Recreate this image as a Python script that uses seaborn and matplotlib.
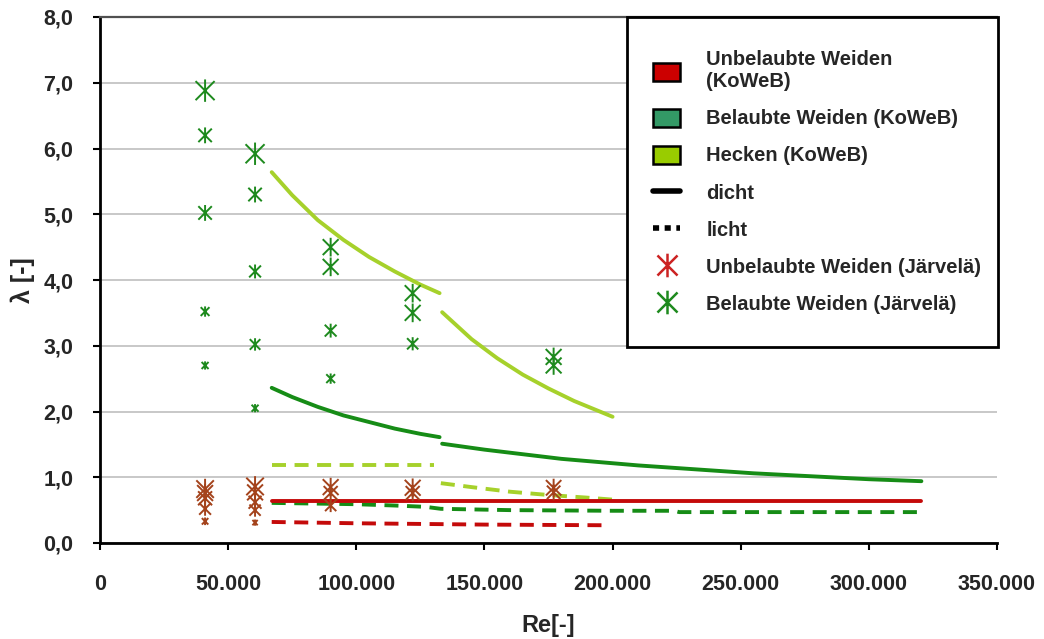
import numpy as np
import pandas as pd
import matplotlib
matplotlib.use("Agg")
import matplotlib.pyplot as plt
import seaborn as sns
from matplotlib.path import Path
from matplotlib.patches import Patch, Rectangle
from matplotlib.lines import Line2D
from matplotlib.ticker import FuncFormatter, MultipleLocator

# ---------------- data ----------------
# KoWeB: Hecken (dicht / licht)
hecken_dicht_1_x = [67000, 75000, 85000, 95000, 105000, 115000, 125000, 132500]
hecken_dicht_1_y = [5.64, 5.29, 4.91, 4.61, 4.35, 4.13, 3.93, 3.80]
hecken_dicht_2_x = [133500, 145000, 155000, 165000, 175000, 185000, 200000]
hecken_dicht_2_y = [3.51, 3.10, 2.81, 2.56, 2.35, 2.16, 1.92]
hecken_licht_1_x = [67000, 130500]
hecken_licht_1_y = [1.19, 1.19]
hecken_licht_2_x = [133000, 145000, 160000, 175000, 190000, 200000]
hecken_licht_2_y = [0.91, 0.85, 0.78, 0.73, 0.69, 0.66]

# KoWeB: Belaubte Weiden
belaubt_dicht_1_x = [67000, 75000, 85000, 95000, 105000, 115000, 125000, 132500]
belaubt_dicht_1_y = [2.36, 2.22, 2.07, 1.94, 1.84, 1.74, 1.66, 1.61]
belaubt_dicht_2_x = [133500, 150000, 165000, 180000, 195000, 210000, 225000,
                     240000, 255000, 270000, 285000, 300000, 320500]
belaubt_dicht_2_y = [1.51, 1.42, 1.35, 1.28, 1.23, 1.18, 1.14,
                     1.10, 1.06, 1.03, 1.00, 0.97, 0.94]
belaubt_licht_x = [67000, 100000, 115000, 127000, 133000, 160000, 200000, 224000, 226000, 320500]
belaubt_licht_y = [0.61, 0.59, 0.57, 0.55, 0.52, 0.50, 0.49, 0.49, 0.47, 0.47]

# KoWeB: Unbelaubte Weiden
unbelaubt_dicht_x = [67000, 320500]
unbelaubt_dicht_y = [0.64, 0.64]
unbelaubt_licht_x = [67000, 100000, 150000, 197000]
unbelaubt_licht_y = [0.32, 0.30, 0.28, 0.27]

# Järvelä measurements
jarv_bel_x = [41000, 41000, 41000, 41000, 41000,
              60500, 60500, 60500, 60500, 60500,
              90000, 90000, 90000, 90000,
              122000, 122000, 122000,
              177000, 177000]
jarv_bel_y = [6.88, 6.20, 5.02, 3.52, 2.70,
              5.92, 5.30, 4.13, 3.02, 2.05,
              4.50, 4.20, 3.23, 2.50,
              3.80, 3.50, 3.03,
              2.83, 2.70]
jarv_unbel_x = [41000, 41000, 41000, 41000, 41000,
                60500, 60500, 60500, 60500, 60500,
                90000, 90000, 90000,
                122000, 122000,
                177000, 177000]
jarv_unbel_y = [0.82, 0.76, 0.68, 0.52, 0.33,
                0.86, 0.77, 0.62, 0.50, 0.31,
                0.85, 0.76, 0.57,
                0.84, 0.76,
                0.84, 0.77]

# marker sizes (style, points^2)
jarv_bel_s = [260, 130, 130, 55, 35,
              260, 130, 100, 80, 35,
              180, 180, 100, 55,
              180, 180, 90,
              180, 180]
jarv_unbel_s = [220, 180, 140, 100, 30,
                220, 180, 120, 90, 20,
                180, 140, 90,
                180, 140,
                170, 130]

xticks = [0, 50000, 100000, 150000, 200000, 250000, 300000, 350000]

# ---------------- style ----------------
sns.set_theme(style="white")
plt.rcParams['font.family'] = ['Liberation Sans', 'DejaVu Sans']
plt.rcParams['font.weight'] = 'bold'

C_RED = "#c40a0a"
C_DGREEN = "#168c16"
C_LGREEN = "#a6d12b"
C_SC_GREEN = "#1e8a1e"
C_BROWN = "#a4431c"

star = Path([(0, -1), (0, 1), (-0.85, -0.85), (0.85, 0.85), (-0.85, 0.85), (0.85, -0.85)],
            [Path.MOVETO, Path.LINETO, Path.MOVETO, Path.LINETO, Path.MOVETO, Path.LINETO])

fig = plt.figure(figsize=(10.44, 6.39), dpi=100)
ax = fig.add_axes([100 / 1044, 1 - 543 / 639, 897 / 1044, 526 / 639])

LW = 2.8
DASH = (3.6, 2.2)

def line(xs, ys, color, dashed=False):
    df = pd.DataFrame({"x": xs, "y": ys})
    kw = dict(color=color, linewidth=LW, solid_capstyle='round', dash_capstyle='butt')
    l = sns.lineplot(data=df, x="x", y="y", ax=ax, sort=False, estimator=None, **kw)
    if dashed:
        l.lines[-1].set_dashes(DASH)

line(unbelaubt_licht_x, unbelaubt_licht_y, C_RED, dashed=True)
line(belaubt_licht_x, belaubt_licht_y, C_DGREEN, dashed=True)
line(hecken_licht_1_x, hecken_licht_1_y, C_LGREEN, dashed=True)
line(hecken_licht_2_x, hecken_licht_2_y, C_LGREEN, dashed=True)
line(unbelaubt_dicht_x, unbelaubt_dicht_y, C_RED)
line(belaubt_dicht_1_x, belaubt_dicht_1_y, C_DGREEN)
line(belaubt_dicht_2_x, belaubt_dicht_2_y, C_DGREEN)
line(hecken_dicht_1_x, hecken_dicht_1_y, C_LGREEN)
line(hecken_dicht_2_x, hecken_dicht_2_y, C_LGREEN)

sns.scatterplot(x=jarv_bel_x, y=jarv_bel_y, ax=ax, marker=star, s=jarv_bel_s,
                color=C_SC_GREEN, edgecolor=C_SC_GREEN, linewidth=1.4, zorder=5)
sns.scatterplot(x=jarv_unbel_x, y=jarv_unbel_y, ax=ax, marker=star, s=jarv_unbel_s,
                color=C_BROWN, edgecolor=C_BROWN, linewidth=1.4, zorder=5)

# ---------------- axes ----------------
ax.set_xlim(0, 350000)
ax.set_ylim(0, 8)
ax.set_xticks(xticks)
ax.xaxis.set_major_formatter(FuncFormatter(lambda v, p: f"{int(v):,}".replace(",", ".")))
ax.yaxis.set_major_locator(MultipleLocator(1.0))
ax.yaxis.set_major_formatter(FuncFormatter(lambda v, p: f"{v:.1f}".replace(".", ",")))
ax.grid(axis='y', color='#c4c4c4', linewidth=1.3)
ax.set_axisbelow(True)
for s in ['left', 'bottom']:
    ax.spines[s].set_color('black')
    ax.spines[s].set_linewidth(2.0)
ax.spines['top'].set_color('#505050')
ax.spines['top'].set_linewidth(1.6)
ax.spines['right'].set_visible(False)
ax.tick_params(axis='both', direction='out', length=5, width=1.5, color='black',
               labelsize=15.5, pad=14, left=True, bottom=True)
ax.tick_params(axis='x', pad=17)
for t in ax.get_xticklabels() + ax.get_yticklabels():
    t.set_fontweight('bold')
ax.set_xlabel("Re[-]", fontsize=17, fontweight='bold', labelpad=14)
ax.set_ylabel("λ [-]", fontsize=18, fontweight='bold', labelpad=6)

# ---------------- legend ----------------
# legend frame box (axes fraction)
bx0, by0 = (627 - 100) / 897, (543 - 347) / 526
bw, bh = (998 - 627) / 897, 330 / 526
frame = Rectangle((bx0, by0), bw, bh, transform=ax.transAxes, clip_on=False,
                  facecolor='white', edgecolor='black', linewidth=2.0, zorder=9)
ax.add_patch(frame)

handles = [
    Patch(facecolor="#cc0000", edgecolor="black", linewidth=1.8),
    Patch(facecolor="#339966", edgecolor="black", linewidth=1.8),
    Patch(facecolor="#99cc00", edgecolor="black", linewidth=1.8),
    Line2D([], [], color="black", linewidth=4),
    Line2D([], [], color="black", linewidth=4, dashes=(1.1, 1.0)),
    Line2D([], [], linestyle='none', marker=star, markersize=17, markeredgewidth=1.8,
           color="#cc2222", markeredgecolor="#cc2222"),
    Line2D([], [], linestyle='none', marker=star, markersize=17, markeredgewidth=1.8,
           color="#1e8a1e", markeredgecolor="#1e8a1e"),
]
labels = ["Unbelaubte Weiden\n(KoWeB)", "Belaubte Weiden (KoWeB)", "Hecken (KoWeB)",
          "dicht", "licht", "Unbelaubte Weiden (Järvelä)", "Belaubte Weiden (Järvelä)"]
lx0 = (653 - 100) / 897
leg = ax.legend(handles, labels, loc='center left',
                bbox_to_anchor=(lx0, by0, (998 - 653) / 897, bh),
                frameon=False, prop={'weight': 'bold', 'size': 14.5},
                handlelength=1.35, handleheight=1.0, handletextpad=1.3,
                labelspacing=0.85, borderpad=0, borderaxespad=0)
leg.set_zorder(10)

fig.savefig("out.png", dpi=100)
